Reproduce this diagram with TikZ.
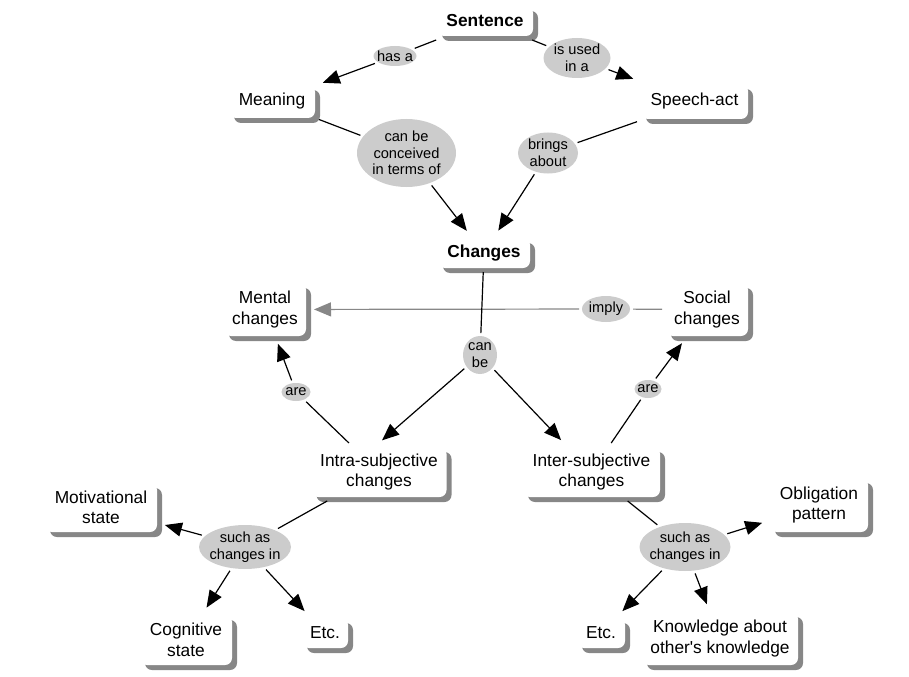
\documentclass[tikz,border=0pt]{standalone}
\usepackage{fontspec}
\setmainfont{Liberation Sans}
\usepackage{tikz}
\usetikzlibrary{arrows.meta,shapes.geometric,shadows}
\definecolor{shadowgray}{HTML}{878787}
\definecolor{linkgray}{HTML}{CCCCCC}

\begin{document}
\begin{tikzpicture}[x=1bp, y=-1bp,
  concept/.style={rectangle, rounded corners=7bp, fill=white, inner sep=0pt,
    outer sep=4bp, align=center, font=\fontsize{17.4}{20.5}\selectfont,
    drop shadow={shadow xshift=5bp, shadow yshift=-5bp, fill=shadowgray, opacity=1}},
  link/.style={ellipse, fill=linkgray, inner xsep=-6bp, inner ysep=-3bp,
    outer sep=3bp, align=center, font=\fontsize{14.7}{16.7}\selectfont},
  sz/.style 2 args={minimum width=#1bp, minimum height=#2bp},
  line/.style={line width=1.2bp},
  arr/.style={line width=1.2bp, -{Triangle[length=17bp,width=14bp]}, shorten >=4bp}]
\useasboundingbox (0,0) rectangle (909,677);

% concepts
\node[concept, sz={96}{30}] (sent) at (485,21) {\bfseries Sentence};
\node[concept, sz={86}{33}] (mean) at (272,101.5) {Meaning};
\node[concept, sz={107}{35}] (speech) at (694.5,101.5) {Speech-act};
\node[concept, sz={92}{30}] (chg) at (484,253) {\bfseries Changes};
\node[concept, sz={82}{53}] (mental) at (265,309.5) {Mental\\changes};
\node[concept, sz={82}{53}] (social) at (707,309.5) {Social\\changes};
\node[concept, sz={135}{50}] (intra) at (379,472) {Intra-subjective\\changes};
\node[concept, sz={137}{50}] (inter) at (591.5,472) {Inter-subjective\\changes};
\node[concept, sz={112}{49}] (motiv) at (101,507.5) {Motivational\\state};
\node[concept, sz={98}{54}] (oblig) at (819,505) {Obligation\\pattern};
\node[concept, sz={92}{50}] (cogn) at (186,640) {Cognitive\\state};
\node[concept, sz={46}{30}] (etcL) at (325,633) {Etc.};
\node[concept, sz={48}{30}] (etcR) at (601,633) {Etc.};
\node[concept, sz={156}{53}] (know) at (720,638.5) {Knowledge about\\other{\textquotesingle}s knowledge};

% linking phrases
\node[link, sz={43}{20}] (hasa) at (395,56) {has a};
\node[link, sz={67}{40}] (used) at (577,58) {is used\\in a};
\node[link, sz={99}{68}] (conc) at (406.5,153) {can be\\conceived\\in terms of};
\node[link, sz={60}{41}] (brings) at (548,153) {brings\\about};
\node[link, sz={48}{26}] (imply) at (606,309) {imply};
\node[link, sz={34}{38}] (canbe) at (480,355) {can\\be};
\node[link, sz={29}{18}] (areL) at (296,392) {are};
\node[link, sz={27}{18}] (areR) at (648,389) {are};
\node[link, sz={92}{44}] (suchL) at (245,547) {such as\\changes in};
\node[link, sz={91}{48}] (suchR) at (685,547) {such as\\changes in};

% connectors
\draw[line] (sent) -- (hasa);
\draw[arr] (hasa) -- (mean);
\draw[line] (sent) -- (used);
\draw[arr] (used) -- (speech);
\draw[line] (mean) -- (conc);
\draw[arr] (conc) -- (chg);
\draw[line] (speech) -- (brings);
\draw[arr] (brings) -- (chg);
\draw[line, shadowgray] (social) -- (imply);
\draw[arr, shadowgray] (imply) -- (mental);
\draw[line] (chg) -- (canbe);
\draw[arr] (canbe) -- (intra.north);
\draw[arr] (canbe) -- (inter);
\draw[line] (intra) -- (areL);
\draw[arr] (areL) -- (mental);
\draw[line] (inter) -- (areR);
\draw[arr] (areR) -- (social);
\draw[line] (intra) -- (suchL);
\draw[arr] (suchL) -- (motiv);
\draw[arr] (suchL) -- (cogn);
\draw[arr] (suchL) -- (etcL);
\draw[line] (inter) -- (suchR);
\draw[arr] (suchR) -- (oblig);
\draw[arr] (suchR) -- (etcR);
\draw[arr] (suchR) -- (know);
\end{tikzpicture}
\end{document}
